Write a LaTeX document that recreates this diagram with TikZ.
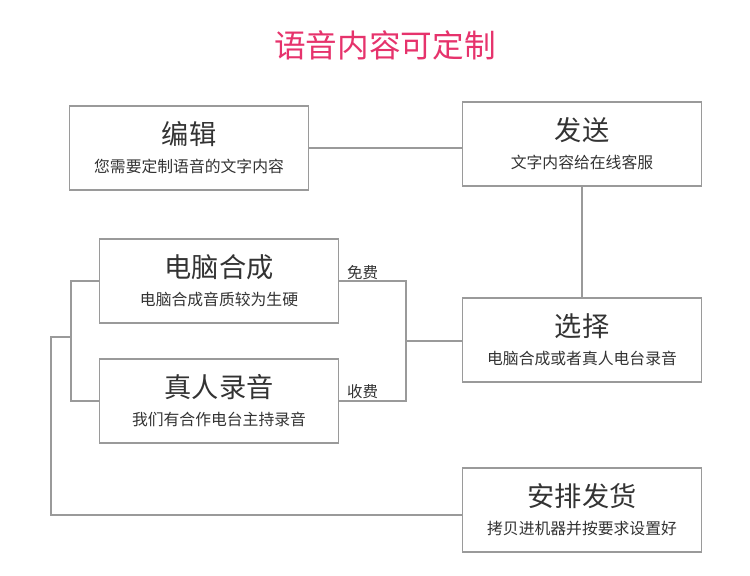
\documentclass[tikz,border=0pt]{standalone}
\usepackage{fontspec}
\setmainfont{Noto Sans CJK SC}
\usetikzlibrary{positioning}
\definecolor{linegray}{HTML}{9A9A9A}
\definecolor{txtgray}{HTML}{333333}
\definecolor{titlepink}{HTML}{E6336C}
\tikzset{
    stepbox/.style={draw=linegray, line width=0.9pt, minimum width=4.78cm, minimum height=1.68cm,
        align=center, text=txtgray, inner sep=0pt},
    conn/.style={draw=linegray, line width=0.8pt},
    tag/.style={text=txtgray, font=\fontsize{8.8}{10}\selectfont, inner sep=1pt}}
\newcommand{\boxtext}[2]{{\fontsize{15.5}{17}\selectfont #1}\\[4pt]{\fontsize{9}{11}\selectfont #2}}
\begin{document}
\begin{tikzpicture}[x=0.02cm, y=-0.02cm]
    \useasboundingbox (0,0) rectangle (750,575);

    \node[text=titlepink, font=\fontsize{18}{20}\selectfont] (title) at (385,45) {语音内容可定制};

    \node[stepbox] (edit) at (189,148) {\boxtext{编辑}{您需要定制语音的文字内容}};
    \node[stepbox] (send) at (582,144) {\boxtext{发送}{文字内容给在线客服}};
    \node[stepbox] (pc) at (219,281) {\boxtext{电脑合成}{电脑合成音质较为生硬}};
    \node[stepbox] (live) at (219,401) {\boxtext{真人录音}{我们有合作电台主持录音}};
    \node[stepbox] (pick) at (582,340) {\boxtext{选择}{电脑合成或者真人电台录音}};
    \node[stepbox] (ship) at (582,510) {\boxtext{安排发货}{拷贝进机器并按要求设置好}};

    \coordinate (rtop) at (406,281);
    \coordinate (rbot) at (406,401);
    \coordinate (rmid) at (406,341);
    \coordinate (ltop) at (71,281);
    \coordinate (lbot) at (71,401);
    \coordinate (lmid) at (71,337);
    \coordinate (far) at (51,337);
    \coordinate (farlow) at (51,515);

    \draw[conn] (edit.east) -- (edit.east -| send.west);
    \draw[conn] (send.south) -- (pick.north);
    \draw[conn] (pc.east) -- (rtop) -- (rbot) -- (live.east);
    \draw[conn] (rmid) -- (rmid -| pick.west);
    \draw[conn] (pc.west) -- (ltop) -- (lbot) -- (live.west);
    \draw[conn] (lmid) -- (far) -- (farlow) -- (farlow -| ship.west);

    \node[tag, anchor=south west] (free) at (345,282) {免费};
    \node[tag, anchor=south west] (paid) at (345,401) {收费};
\end{tikzpicture}
\end{document}
